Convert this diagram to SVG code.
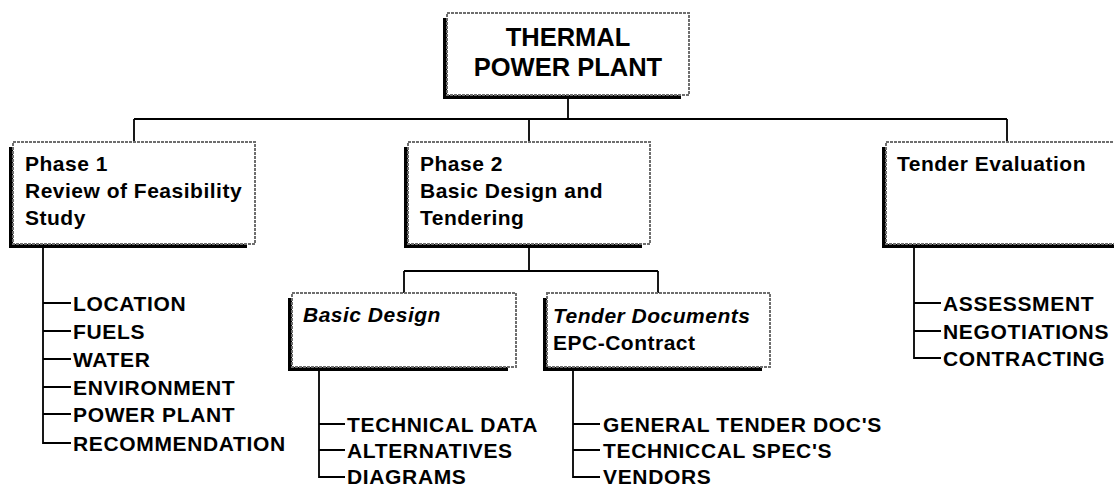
<svg xmlns="http://www.w3.org/2000/svg" width="1114" height="486" viewBox="0 0 1114 486">
<style>
  .bg { fill: #ffffff; }
  .shadow { fill: #000000; }
  .box { fill: #ffffff; stroke: #6e6e6e; stroke-width: 2; stroke-dasharray: 3 1; }
  .wire { fill: none; stroke: #000000; stroke-width: 1.8; }
  .title { font-family: "Liberation Sans", Arial, sans-serif; font-weight: bold; font-size: 25.5px; fill: #000; text-anchor: middle; }
  .lbl { font-family: "Liberation Sans", Arial, sans-serif; font-weight: bold; font-size: 21px; letter-spacing: 0.5px; fill: #000; }
  .ital { font-style: italic; }
  .item { font-family: "Liberation Sans", Arial, sans-serif; font-weight: bold; font-size: 21px; letter-spacing: 0.65px; fill: #000; }
</style>
<rect class="bg" x="0" y="0" width="1114" height="486"/>

<g id="connectors">
  <path class="wire" d="M568 99 V119 M134 119 H1007 M134 119 V142 M529 119 V142 M1007 119 V142"/>
  <path class="wire" d="M529 248 V271 M404 271 H658 M404 271 V293 M658 271 V293"/>
  <path class="wire" d="M43 248 V443 H71 M43 303 H71 M43 331 H71 M43 359 H71 M43 387 H71 M43 414 H71"/>
  <path class="wire" d="M319 371 V477 H345 M319 424 H345 M319 450 H345"/>
  <path class="wire" d="M573 371 V477 H600 M573 424 H600 M573 450 H600"/>
  <path class="wire" d="M914 248 V358 H941 M914 303 H941 M914 331 H941"/>
</g>

<g id="thermal-power-plant">
  <rect class="shadow" x="443" y="18" width="238" height="81"/>
  <rect class="box" x="447" y="13" width="242" height="82"/>
  <text class="title" x="568" y="46">THERMAL</text>
  <text class="title" x="568" y="76">POWER PLANT</text>
</g>

<g id="phase-1">
  <rect class="shadow" x="9" y="147" width="238" height="101"/>
  <rect class="box" x="13" y="142" width="242" height="102"/>
  <text class="lbl" x="25" y="171">Phase 1</text>
  <text class="lbl" x="25" y="198">Review of Feasibility</text>
  <text class="lbl" x="25" y="225">Study</text>
</g>

<g id="phase-2">
  <rect class="shadow" x="404" y="147" width="238" height="101"/>
  <rect class="box" x="408" y="142" width="242" height="102"/>
  <text class="lbl" x="420" y="171">Phase 2</text>
  <text class="lbl" x="420" y="198">Basic Design and</text>
  <text class="lbl" x="420" y="225">Tendering</text>
</g>

<g id="tender-evaluation">
  <rect class="shadow" x="882" y="147" width="238" height="101"/>
  <rect class="box" x="886" y="142" width="242" height="102"/>
  <text class="lbl" x="897" y="171">Tender Evaluation</text>
</g>

<g id="basic-design">
  <rect class="shadow" x="288" y="298" width="220" height="73"/>
  <rect class="box" x="292" y="293" width="224" height="74"/>
  <text class="lbl ital" x="303" y="322">Basic Design</text>
</g>

<g id="tender-documents">
  <rect class="shadow" x="543" y="298" width="219" height="73"/>
  <rect class="box" x="547" y="293" width="223" height="74"/>
  <text class="lbl ital" x="553" y="323">Tender Documents</text>
  <text class="lbl" x="553" y="350">EPC-Contract</text>
</g>

<g id="phase-1-items">
  <text class="item" x="73" y="310.5">LOCATION</text>
  <text class="item" x="73" y="338.5">FUELS</text>
  <text class="item" x="73" y="366.5">WATER</text>
  <text class="item" x="73" y="394.5">ENVIRONMENT</text>
  <text class="item" x="73" y="421.5">POWER PLANT</text>
  <text class="item" x="73" y="450.5">RECOMMENDATION</text>
</g>

<g id="basic-design-items">
  <text class="item" x="347" y="431.5">TECHNICAL DATA</text>
  <text class="item" x="347" y="457.5">ALTERNATIVES</text>
  <text class="item" x="347" y="484">DIAGRAMS</text>
</g>

<g id="tender-documents-items">
  <text class="item" x="603" y="431.5">GENERAL TENDER DOC'S</text>
  <text class="item" x="603" y="457.5">TECHNICCAL SPEC'S</text>
  <text class="item" x="603" y="484">VENDORS</text>
</g>

<g id="tender-evaluation-items">
  <text class="item" x="943" y="310.5">ASSESSMENT</text>
  <text class="item" x="943" y="338.5">NEGOTIATIONS</text>
  <text class="item" x="943" y="365.5">CONTRACTING</text>
</g>
</svg>
